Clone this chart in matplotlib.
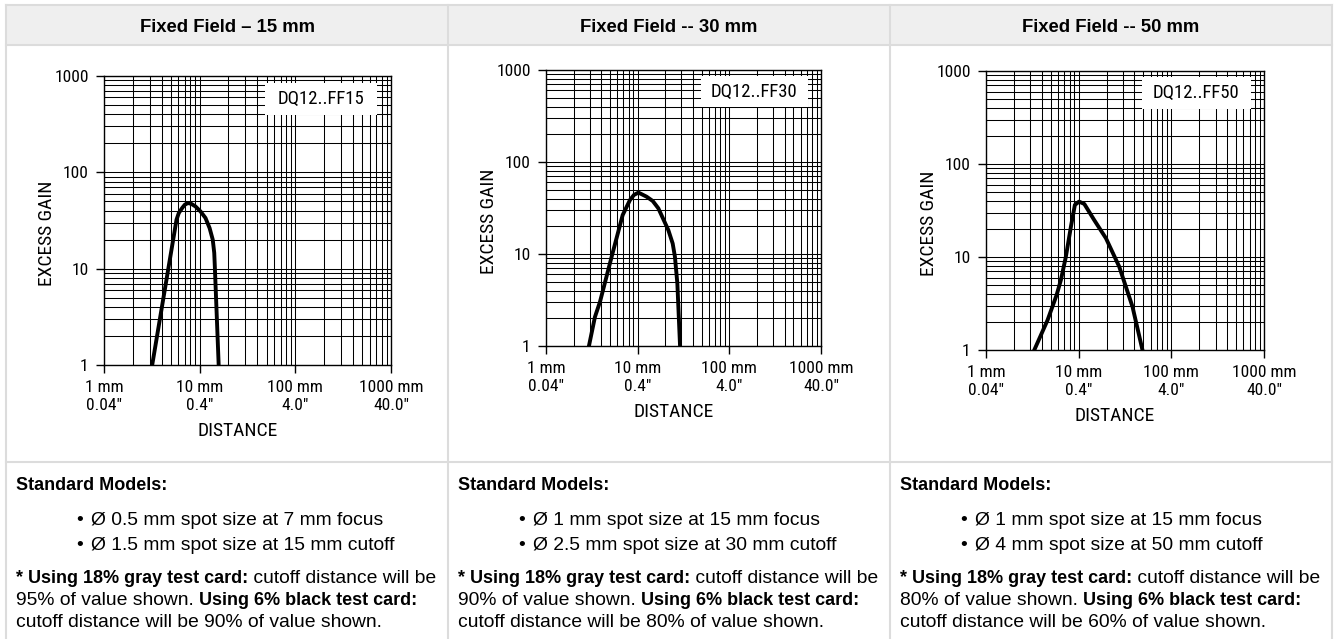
import matplotlib
matplotlib.use('Agg')
import matplotlib.pyplot as plt
from matplotlib.patches import Rectangle
from matplotlib.ticker import NullFormatter
from matplotlib.transforms import offset_copy

# excess gain curves (distance in mm)
dist_15 = [3.19, 5.73, 6.05, 6.56, 6.99, 7.52, 8.14, 9.03, 10.2, 11.5, 12.7, 13.7, 14.2, 14.4, 15.8]
gain_15 = [1.0, 32.3, 37.8, 42.6, 46.1, 48.0, 47.2, 44.3, 39.3, 33.6, 26.4, 20.0, 14.6, 10.6, 1.0]
dist_30 = [2.94, 3.42, 3.88, 5.2, 6.86, 8.25, 9.12, 10.2, 12.5, 14.6, 16.8, 21.6, 24.1, 25.5, 27.1, 29.0]
gain_30 = [1.0, 2.07, 3.02, 9.33, 26.5, 38.7, 43.9, 46.5, 42.0, 37.7, 31.4, 18.2, 13.0, 9.33, 4.78, 1.0]
dist_50 = [3.32, 4.62, 5.78, 6.43, 7.28, 8.25, 9.1, 10.1, 11.5, 14.7, 19.7, 27.4, 38.1, 48.8]
gain_50 = [1.0, 2.1, 3.9, 5.66, 10.1, 21.2, 36.3, 39.4, 37.2, 25.0, 15.9, 7.87, 2.92, 1.0]

titles = ['Fixed Field \u2013 15 mm', 'Fixed Field -- 30 mm', 'Fixed Field -- 50 mm']
models = ['DQ12..FF15', 'DQ12..FF30', 'DQ12..FF50']
bullets = [['\u00d8 0.5 mm spot size at 7 mm focus', '\u00d8 1.5 mm spot size at 15 mm cutoff'],
           ['\u00d8 1 mm spot size at 15 mm focus', '\u00d8 2.5 mm spot size at 30 mm cutoff'],
           ['\u00d8 1 mm spot size at 15 mm focus', '\u00d8 4 mm spot size at 50 mm cutoff']]
gray_pct = ['95%', '90%', '80%']
black_pct = ['90%', '80%', '60%']

xtick_vals = [1, 10, 100, 1000]
xtick_labels = ['1 mm\n0.04"', '10 mm\n0.4"', '100 mm\n4.0"', '1000 mm\n40.0"']
ytick_vals = [1, 10, 100, 1000]
ytick_labels = ['1', '10', '100', '1000']

curves = [(dist_15, gain_15), (dist_30, gain_30), (dist_50, gain_50)]

W, H = 1334, 639
col_edges = [6, 448, 890, 1332]
axes_px = [(104, 76, 391, 365), (546, 70, 821, 346), (986, 71, 1264, 350)]
narrow = ['Roboto Condensed', 'Archivo Narrow', 'Liberation Sans']
plt.rcParams['font.family'] = ['Liberation Sans', 'DejaVu Sans']

fig = plt.figure(figsize=(W / 100, H / 100), dpi=100)

# table in pixel coordinates
bg = fig.add_axes([0, 0, 1, 1])
bg.set_xlim(0, W)
bg.set_ylim(H, 0)
bg.axis('off')
border = '#dcdcdc'
bg.add_patch(Rectangle((6, 5), 1326, 40, facecolor='#efefef', edgecolor='none'))
for y in [5, 45, 462]:
    bg.plot([6, 1332], [y, y], color=border, lw=1.5)
for x in col_edges:
    bg.plot([x, x], [5, H], color=border, lw=1.5)

fb = 13      # bold text
fr = 13.9    # regular text
for i in range(3):
    cx = (col_edges[i] + col_edges[i + 1]) / 2
    bg.text(cx, 32, titles[i], ha='center', va='baseline', fontsize=13.3, fontweight='bold')
    left = col_edges[i] + 10
    bg.text(left, 490, 'Standard Models:', va='baseline', fontsize=fb, fontweight='bold')
    for j, b in enumerate(bullets[i]):
        bg.text(left + 60, 525 + 25 * j, '\u2022', va='baseline', fontsize=fr)
        bg.text(left + 75, 525 + 25 * j, b, va='baseline', fontsize=fr)
    t = bg.text(left, 583, '* Using 18% gray test card:', va='baseline', fontsize=fb, fontweight='bold')
    bg.annotate(' cutoff distance will be', xy=(1, 0), xycoords=t, va='bottom', fontsize=fr)
    t = bg.text(left, 605, gray_pct[i] + ' of value shown.', va='baseline', fontsize=fr)
    bg.annotate(' Using 6% black test card:', xy=(1, 0), xycoords=t, va='bottom', fontsize=fb,
                fontweight='bold')
    bg.text(left, 627, 'cutoff distance will be ' + black_pct[i] + ' of value shown.',
            va='baseline', fontsize=fr)

# the three excess gain charts
for i in range(3):
    x0, y0, x1, y1 = axes_px[i]
    ax = fig.add_axes([x0 / W, 1 - y1 / H, (x1 - x0) / W, (y1 - y0) / H])
    ax.set_xscale('log')
    ax.set_yscale('log')
    ax.set_xlim(1, 1000)
    ax.set_ylim(1, 1000)
    ax.grid(True, which='both', color='black', linewidth=0.75)
    ax.set_xticks(xtick_vals, xtick_labels, fontfamily=narrow, fontsize=12.5)
    ax.set_yticks(ytick_vals, ytick_labels, fontfamily=narrow, fontsize=12.5)
    ax.xaxis.set_minor_formatter(NullFormatter())
    ax.yaxis.set_minor_formatter(NullFormatter())
    ax.tick_params(which='major', direction='out', length=6, width=1, pad=5, color='black')
    ax.tick_params(which='minor', length=0)
    for s in ax.spines.values():
        s.set_linewidth(1)

    d, g = curves[i]
    ax.plot(d, g, color='black', lw=2.8, solid_joinstyle='round', zorder=4)

    ax.add_patch(Rectangle((0.562, 0.865), 0.39, 0.112, transform=ax.transAxes,
                           facecolor='white', edgecolor='none', zorder=5))
    ax.text(0.757, 0.921, models[i], transform=ax.transAxes, ha='center', va='center',
            fontsize=13.5, fontfamily=narrow, zorder=6)

    ax.text(0, 0.5, 'EXCESS GAIN', rotation=90, ha='center', va='center', fontsize=14,
            fontfamily=narrow, transform=offset_copy(ax.transAxes, fig, x=-57, y=-13, units='dots'))
    ax.text(0.5, 0, 'DISTANCE', ha='center', va='baseline', fontsize=14, fontfamily=narrow,
            transform=offset_copy(ax.transAxes, fig, x=-10, y=-71, units='dots'))

fig.savefig('out.png', dpi=100)
